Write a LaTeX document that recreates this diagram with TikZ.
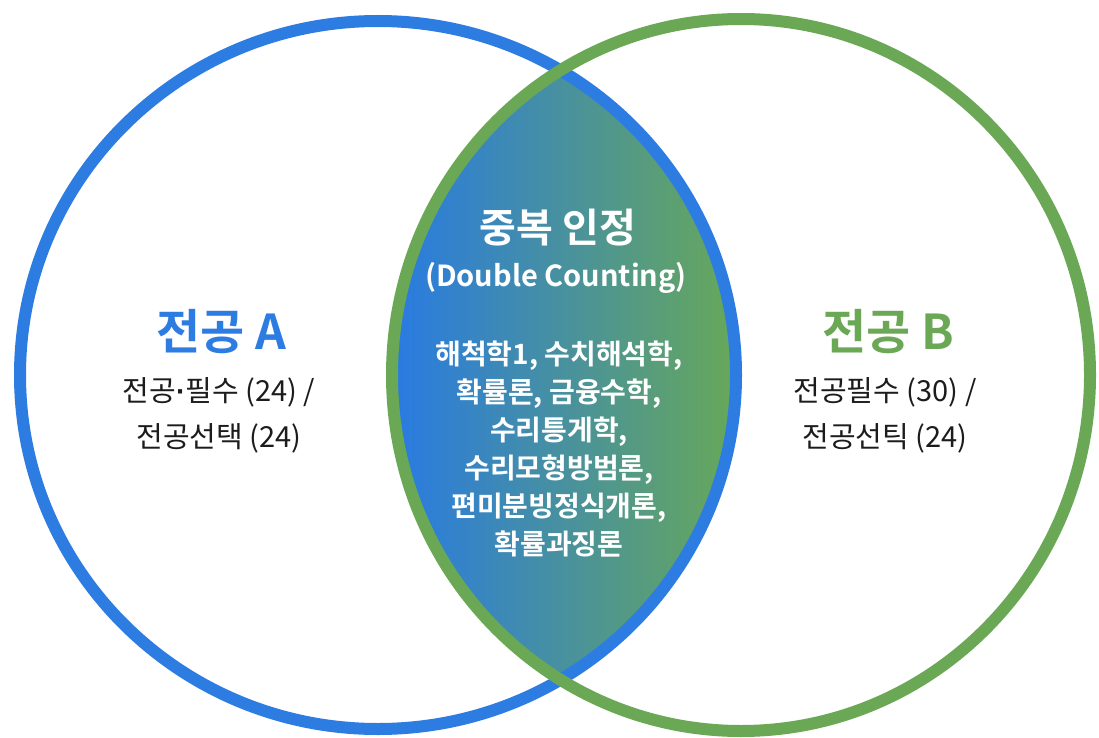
\documentclass[tikz,border=0pt]{standalone}
\usepackage{fontspec}
\setmainfont{Noto Sans CJK KR}[BoldFont={Noto Sans CJK KR Bold}]
\newfontfamily\dotfont{Liberation Sans}
\definecolor{majorblue}{RGB}{45,124,226}
\definecolor{majorgreen}{RGB}{106,168,86}
\definecolor{lensblue}{RGB}{40,122,228}
\definecolor{lensteal}{RGB}{62,142,158}
\definecolor{lensgreen}{RGB}{104,168,88}
\definecolor{bodytext}{RGB}{28,28,30}
\begin{document}
\begin{tikzpicture}[x=1pt,y=-1pt,
  ring/.style={line width=12pt},
  majortitle/.style={font=\bfseries\fontsize{48}{52}\selectfont},
  credits/.style={font=\fontsize{29}{46}\selectfont, align=center, text=bodytext},
  lenstext/.style={text=white, align=center}]
\useasboundingbox (0,0) rectangle (1099,738);
\fill[white] (0,0) rectangle (1099,738);
% overlap of the two majors
\begin{scope}
\clip (378,375) ellipse [x radius=358pt, y radius=354pt];
\clip (741,375) ellipse [x radius=349pt, y radius=356pt];
\shade[left color=lensblue, middle color=lensteal, right color=lensgreen]
  (390,15) rectangle (738,735);
\end{scope}
\draw[ring, majorblue] (378,375) ellipse [x radius=358pt, y radius=354pt];
\draw[ring, majorgreen] (741,375) ellipse [x radius=349pt, y radius=356pt];
% major A
\node[majortitle, text=majorblue] (majA) at (221,332) {전공 A};
\node[credits] (creditsA) at (219,415) {전공{\dotfont\bfseries ·}필수 (24) /\\전공선택 (24)};
% major B
\node[majortitle, text=majorgreen] (majB) at (888,332) {전공 B};
\node[credits] (creditsB) at (885,415) {전공필수 (30) /\\전공선틱 (24)};
% double counting
\node[lenstext, font=\bfseries\fontsize{40}{44}\selectfont] (dup) at (558,228) {중복 인정};
\node[lenstext, font=\bfseries\fontsize{29}{32}\selectfont] (dupEn) at (556,278) {(Double Counting)};
\node[lenstext, font=\bfseries\fontsize{28}{38}\selectfont] (dupList) at (559,449)
  {해척학1, 수치해석학,\\확률론, 금융수학,\\수리틍게학,\\수리모형방범론,\\편미분빙정식개론,\\확률과징론};
\end{tikzpicture}
\end{document}
